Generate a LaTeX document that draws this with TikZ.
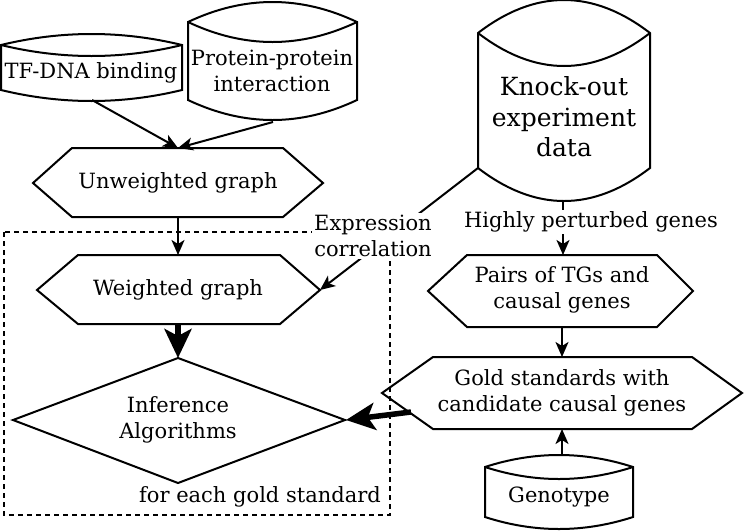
\documentclass[tikz,border=0pt]{standalone}
\usepackage{fontspec}
\setmainfont{DejaVu Serif}
\usetikzlibrary{arrows.meta,calc}
\tikzset{
  shp/.style={line width=2pt, line join=miter},
  txt/.style={align=center, font=\fontsize{21}{26}\selectfont, inner sep=0pt},
  bigtxt/.style={align=center, font=\fontsize{25}{30.5}\selectfont, inner sep=0pt},
  lbl/.style={align=center, font=\fontsize{21}{26}\selectfont, fill=white, inner sep=2pt},
  thin arrow/.style={line width=2pt, -{Stealth[length=15pt,width=13pt,inset=4pt]}},
  thick arrow/.style={line width=5.5pt, -{Stealth[length=29pt,width=27pt,inset=7pt]}},
  groupbox/.style={line width=2pt, dash pattern=on 5pt off 4pt}
}
\newcommand\mycyl[5]{%
  \pgfmathsetmacro\cyA{#1+(#2-#1)/3}%
  \pgfmathsetmacro\cyB{#1+2*(#2-#1)/3}%
  \pgfmathsetmacro\cyU{#3-4*#5/3}%
  \pgfmathsetmacro\cyD{#3+4*#5/3}%
  \pgfmathsetmacro\cyL{#4+4*#5/3}%
  \draw[shp] (#1,#4) -- (#1,#3) .. controls (\cyA,\cyU) and (\cyB,\cyU) .. (#2,#3) -- (#2,#4) .. controls (\cyB,\cyL) and (\cyA,\cyL) .. (#1,#4) -- cycle;
  \draw[shp] (#1,#3) .. controls (\cyA,\cyD) and (\cyB,\cyD) .. (#2,#3);
}
\begin{document}
\begin{tikzpicture}[x=1pt,y=-1pt]
\useasboundingbox (0,0) rectangle (744,531);

% group box
\draw[groupbox] (4,232) rectangle (390,515);

% cylinders
\mycyl{1}{182}{45}{90}{11}
\mycyl{188}{357}{22}{100}{20}
\mycyl{478}{650}{33}{168}{33}
\mycyl{485}{633}{467}{517}{12}

% hexagons
\draw[shp] (33,183) -- (72,148) -- (283,148) -- (323,183) -- (283,217) -- (72,217) -- cycle;
\draw[shp] (37,290) -- (78,255) -- (280,255) -- (320,290) -- (280,324) -- (78,324) -- cycle;
\draw[shp] (428,291) -- (467,255) -- (657,255) -- (693,291) -- (657,327) -- (467,327) -- cycle;
\draw[shp] (382,393) -- (433,357) -- (692,357) -- (742,393) -- (692,429) -- (433,429) -- cycle;
% diamond
\draw[shp] (13,420) -- (178,358) -- (345,420) -- (178,483) -- cycle;

% text nodes
\node[txt] (tf) at (91,73) {TF-DNA binding};
\node[txt] (ppi) at (272,71) {Protein-protein\\interaction};
\node[bigtxt] (ko) at (564,117) {Knock-out\\experiment\\data};
\node[txt] (uw) at (178,183) {Unweighted graph};
\node[txt] (wg) at (178,290) {Weighted graph};
\node[txt] (inf) at (178,420) {Inference\\Algorithms};
\node[txt] (each) at (260,497) {for each gold standard};
\node[txt] (pairs) at (562,290) {Pairs of TGs and\\causal genes};
\node[txt] (gold) at (562,393) {Gold standards with\\candidate causal genes};
\node[txt] (geno) at (559,497) {Genotype};

% connection points
\coordinate (tfB) at (92,100);
\coordinate (ppiB) at (273,122);
\coordinate (uwT) at (178,148);
\coordinate (uwB) at (178,217);
\coordinate (wgT) at (178,255);
\coordinate (wgB) at (178,324);
\coordinate (wgR) at (320,290);
\coordinate (infT) at (178,358);
\coordinate (infR) at (346,420);
\coordinate (koBL) at (478,168);
\coordinate (koB) at (563,202);
\coordinate (pairsT) at (563,255);
\coordinate (pairsB) at (562,327);
\coordinate (goldT) at (562,357);
\coordinate (goldB) at (562,429);
\coordinate (goldL) at (411,412);
\coordinate (genoT) at (562,455);

% connectors
\draw[thin arrow] (tfB) -- (uwT);
\draw[thin arrow] (ppiB) -- (uwT);
\draw[thin arrow] (uwB) -- (wgT);
\draw[thin arrow] (koBL) -- (wgR);
\draw[thin arrow] (koB) -- (pairsT);
\draw[thin arrow] (pairsB) -- (goldT);
\draw[thin arrow] (genoT) -- (goldB);
\draw[thick arrow] (wgB) -- (infT);
\draw[thick arrow] (goldL) -- (infR);

% labels on connectors
\node[lbl] (expr) at (373,236) {Expression\\correlation};
\node[lbl] (hpg) at (591,222) {Highly perturbed genes};
\end{tikzpicture}
\end{document}
